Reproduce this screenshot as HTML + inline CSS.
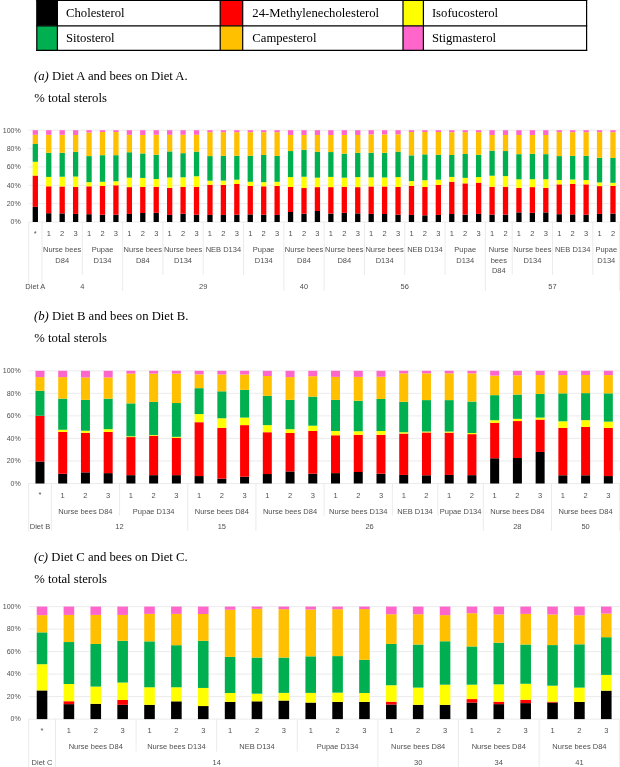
<!DOCTYPE html><html><head><meta charset="utf-8"><title>Sterols</title><style>
html,body{margin:0;padding:0;background:#fff}svg{display:block}
.ax{font-family:"Liberation Sans",sans-serif;font-size:7.5px;fill:#505050}
.h{font-family:"Liberation Serif",serif;font-size:12.7px;fill:#000}
</style></head><body>
<svg width="620" height="767" viewBox="0 0 620 767">
<rect width="620" height="767" fill="#fff"/>
<rect x="36.8" y="0.5" width="20.60" height="25.30" fill="#000000"/>
<text x="66.00" y="17.40" class="h">Cholesterol</text>
<rect x="36.8" y="25.8" width="20.60" height="24.50" fill="#00B050"/>
<text x="66.00" y="42.40" class="h">Sitosterol</text>
<rect x="220.2" y="0.5" width="22.50" height="25.30" fill="#FF0000"/>
<text x="252.30" y="17.40" class="h">24-Methylenecholesterol</text>
<rect x="220.2" y="25.8" width="22.50" height="24.50" fill="#FFC000"/>
<text x="252.30" y="42.40" class="h">Campesterol</text>
<rect x="403.0" y="0.5" width="20.40" height="25.30" fill="#FFFF00"/>
<text x="431.90" y="17.40" class="h">Isofucosterol</text>
<rect x="403.0" y="25.8" width="20.40" height="24.50" fill="#FF66CC"/>
<text x="431.90" y="42.40" class="h">Stigmasterol</text>
<line x1="36.2" y1="0.5" x2="587.2" y2="0.5" stroke="#000" stroke-width="1.2"/>
<line x1="36.2" y1="25.8" x2="587.2" y2="25.8" stroke="#000" stroke-width="1.2"/>
<line x1="36.2" y1="50.3" x2="587.2" y2="50.3" stroke="#000" stroke-width="1.2"/>
<line x1="36.8" y1="0" x2="36.8" y2="50.9" stroke="#000" stroke-width="1.2"/>
<line x1="57.4" y1="0" x2="57.4" y2="50.9" stroke="#000" stroke-width="1.2"/>
<line x1="220.2" y1="0" x2="220.2" y2="50.9" stroke="#000" stroke-width="1.2"/>
<line x1="242.7" y1="0" x2="242.7" y2="50.9" stroke="#000" stroke-width="1.2"/>
<line x1="403.0" y1="0" x2="403.0" y2="50.9" stroke="#000" stroke-width="1.2"/>
<line x1="423.4" y1="0" x2="423.4" y2="50.9" stroke="#000" stroke-width="1.2"/>
<line x1="586.6" y1="0" x2="586.6" y2="50.9" stroke="#000" stroke-width="1.2"/>
<text x="34.0" y="80.40" class="h"><tspan font-style="italic">(a)</tspan> Diet A and bees on Diet A.</text>
<text x="34.3" y="102.40" class="h">% total sterols</text>
<text x="34.0" y="320.40" class="h"><tspan font-style="italic">(b)</tspan> Diet B and bees on Diet B.</text>
<text x="34.3" y="342.40" class="h">% total sterols</text>
<text x="34.0" y="560.50" class="h"><tspan font-style="italic">(c)</tspan> Diet C and bees on Diet C.</text>
<text x="34.3" y="582.50" class="h">% total sterols</text>
<line x1="28.60" y1="222.00" x2="619.70" y2="222.00" stroke="#E6E6E6" stroke-width="0.8"/>
<text x="20.8" y="224.30" text-anchor="end" class="ax" style="font-size:7.05px">0%</text>
<line x1="28.60" y1="203.64" x2="619.70" y2="203.64" stroke="#E6E6E6" stroke-width="0.8"/>
<text x="20.8" y="205.94" text-anchor="end" class="ax" style="font-size:7.05px">20%</text>
<line x1="28.60" y1="185.28" x2="619.70" y2="185.28" stroke="#E6E6E6" stroke-width="0.8"/>
<text x="20.8" y="187.58" text-anchor="end" class="ax" style="font-size:7.05px">40%</text>
<line x1="28.60" y1="166.92" x2="619.70" y2="166.92" stroke="#E6E6E6" stroke-width="0.8"/>
<text x="20.8" y="169.22" text-anchor="end" class="ax" style="font-size:7.05px">60%</text>
<line x1="28.60" y1="148.56" x2="619.70" y2="148.56" stroke="#E6E6E6" stroke-width="0.8"/>
<text x="20.8" y="150.86" text-anchor="end" class="ax" style="font-size:7.05px">80%</text>
<line x1="28.60" y1="130.20" x2="619.70" y2="130.20" stroke="#E6E6E6" stroke-width="0.8"/>
<text x="20.8" y="132.50" text-anchor="end" class="ax" style="font-size:7.05px">100%</text>
<rect x="32.67" y="206.85" width="5.30" height="15.15" fill="#000000"/>
<rect x="32.67" y="175.55" width="5.30" height="31.30" fill="#FF0000"/>
<rect x="32.67" y="161.78" width="5.30" height="13.77" fill="#FFFF00"/>
<rect x="32.67" y="143.97" width="5.30" height="17.81" fill="#00B050"/>
<rect x="32.67" y="134.79" width="5.30" height="9.18" fill="#FFC000"/>
<rect x="32.67" y="130.20" width="5.30" height="4.59" fill="#FF66CC"/>
<rect x="46.10" y="213.19" width="5.30" height="8.81" fill="#000000"/>
<rect x="46.10" y="186.29" width="5.30" height="26.90" fill="#FF0000"/>
<rect x="46.10" y="176.93" width="5.30" height="9.36" fill="#FFFF00"/>
<rect x="46.10" y="152.78" width="5.30" height="24.14" fill="#00B050"/>
<rect x="46.10" y="134.79" width="5.30" height="17.99" fill="#FFC000"/>
<rect x="46.10" y="130.20" width="5.30" height="4.59" fill="#FF66CC"/>
<rect x="59.54" y="213.37" width="5.30" height="8.63" fill="#000000"/>
<rect x="59.54" y="186.47" width="5.30" height="26.90" fill="#FF0000"/>
<rect x="59.54" y="176.74" width="5.30" height="9.73" fill="#FFFF00"/>
<rect x="59.54" y="152.78" width="5.30" height="23.96" fill="#00B050"/>
<rect x="59.54" y="134.79" width="5.30" height="17.99" fill="#FFC000"/>
<rect x="59.54" y="130.20" width="5.30" height="4.59" fill="#FF66CC"/>
<rect x="72.97" y="213.92" width="5.30" height="8.08" fill="#000000"/>
<rect x="72.97" y="186.93" width="5.30" height="26.99" fill="#FF0000"/>
<rect x="72.97" y="176.56" width="5.30" height="10.37" fill="#FFFF00"/>
<rect x="72.97" y="151.86" width="5.30" height="24.69" fill="#00B050"/>
<rect x="72.97" y="134.97" width="5.30" height="16.89" fill="#FFC000"/>
<rect x="72.97" y="130.20" width="5.30" height="4.77" fill="#FF66CC"/>
<rect x="86.40" y="214.20" width="5.30" height="7.80" fill="#000000"/>
<rect x="86.40" y="186.29" width="5.30" height="27.91" fill="#FF0000"/>
<rect x="86.40" y="182.16" width="5.30" height="4.13" fill="#FFFF00"/>
<rect x="86.40" y="156.09" width="5.30" height="26.07" fill="#00B050"/>
<rect x="86.40" y="132.59" width="5.30" height="23.50" fill="#FFC000"/>
<rect x="86.40" y="130.20" width="5.30" height="2.39" fill="#FF66CC"/>
<rect x="99.84" y="214.75" width="5.30" height="7.25" fill="#000000"/>
<rect x="99.84" y="185.92" width="5.30" height="28.83" fill="#FF0000"/>
<rect x="99.84" y="181.79" width="5.30" height="4.13" fill="#FFFF00"/>
<rect x="99.84" y="155.17" width="5.30" height="26.62" fill="#00B050"/>
<rect x="99.84" y="132.04" width="5.30" height="23.13" fill="#FFC000"/>
<rect x="99.84" y="130.20" width="5.30" height="1.84" fill="#FF66CC"/>
<rect x="113.27" y="214.75" width="5.30" height="7.25" fill="#000000"/>
<rect x="113.27" y="185.28" width="5.30" height="29.47" fill="#FF0000"/>
<rect x="113.27" y="181.24" width="5.30" height="4.04" fill="#FFFF00"/>
<rect x="113.27" y="155.17" width="5.30" height="26.07" fill="#00B050"/>
<rect x="113.27" y="132.04" width="5.30" height="23.13" fill="#FFC000"/>
<rect x="113.27" y="130.20" width="5.30" height="1.84" fill="#FF66CC"/>
<rect x="126.71" y="213.92" width="5.30" height="8.08" fill="#000000"/>
<rect x="126.71" y="187.12" width="5.30" height="26.81" fill="#FF0000"/>
<rect x="126.71" y="177.66" width="5.30" height="9.46" fill="#FFFF00"/>
<rect x="126.71" y="152.23" width="5.30" height="25.43" fill="#00B050"/>
<rect x="126.71" y="134.79" width="5.30" height="17.44" fill="#FFC000"/>
<rect x="126.71" y="130.20" width="5.30" height="4.59" fill="#FF66CC"/>
<rect x="140.14" y="213.00" width="5.30" height="9.00" fill="#000000"/>
<rect x="140.14" y="186.93" width="5.30" height="26.07" fill="#FF0000"/>
<rect x="140.14" y="177.94" width="5.30" height="9.00" fill="#FFFF00"/>
<rect x="140.14" y="153.43" width="5.30" height="24.51" fill="#00B050"/>
<rect x="140.14" y="134.97" width="5.30" height="18.45" fill="#FFC000"/>
<rect x="140.14" y="130.20" width="5.30" height="4.77" fill="#FF66CC"/>
<rect x="153.57" y="212.82" width="5.30" height="9.18" fill="#000000"/>
<rect x="153.57" y="186.75" width="5.30" height="26.07" fill="#FF0000"/>
<rect x="153.57" y="179.04" width="5.30" height="7.71" fill="#FFFF00"/>
<rect x="153.57" y="154.71" width="5.30" height="24.33" fill="#00B050"/>
<rect x="153.57" y="134.79" width="5.30" height="19.92" fill="#FFC000"/>
<rect x="153.57" y="130.20" width="5.30" height="4.59" fill="#FF66CC"/>
<rect x="167.01" y="214.93" width="5.30" height="7.07" fill="#000000"/>
<rect x="167.01" y="187.85" width="5.30" height="27.08" fill="#FF0000"/>
<rect x="167.01" y="177.48" width="5.30" height="10.37" fill="#FFFF00"/>
<rect x="167.01" y="151.41" width="5.30" height="26.07" fill="#00B050"/>
<rect x="167.01" y="134.79" width="5.30" height="16.62" fill="#FFC000"/>
<rect x="167.01" y="130.20" width="5.30" height="4.59" fill="#FF66CC"/>
<rect x="180.44" y="213.74" width="5.30" height="8.26" fill="#000000"/>
<rect x="180.44" y="186.93" width="5.30" height="26.81" fill="#FF0000"/>
<rect x="180.44" y="177.29" width="5.30" height="9.64" fill="#FFFF00"/>
<rect x="180.44" y="153.15" width="5.30" height="24.14" fill="#00B050"/>
<rect x="180.44" y="134.79" width="5.30" height="18.36" fill="#FFC000"/>
<rect x="180.44" y="130.20" width="5.30" height="4.59" fill="#FF66CC"/>
<rect x="193.88" y="214.75" width="5.30" height="7.25" fill="#000000"/>
<rect x="193.88" y="186.75" width="5.30" height="28.00" fill="#FF0000"/>
<rect x="193.88" y="176.28" width="5.30" height="10.47" fill="#FFFF00"/>
<rect x="193.88" y="151.59" width="5.30" height="24.69" fill="#00B050"/>
<rect x="193.88" y="134.79" width="5.30" height="16.80" fill="#FFC000"/>
<rect x="193.88" y="130.20" width="5.30" height="4.59" fill="#FF66CC"/>
<rect x="207.31" y="214.93" width="5.30" height="7.07" fill="#000000"/>
<rect x="207.31" y="184.73" width="5.30" height="30.20" fill="#FF0000"/>
<rect x="207.31" y="180.69" width="5.30" height="4.04" fill="#FFFF00"/>
<rect x="207.31" y="156.09" width="5.30" height="24.60" fill="#00B050"/>
<rect x="207.31" y="132.22" width="5.30" height="23.87" fill="#FFC000"/>
<rect x="207.31" y="130.20" width="5.30" height="2.02" fill="#FF66CC"/>
<rect x="220.74" y="214.93" width="5.30" height="7.07" fill="#000000"/>
<rect x="220.74" y="184.91" width="5.30" height="30.02" fill="#FF0000"/>
<rect x="220.74" y="180.60" width="5.30" height="4.31" fill="#FFFF00"/>
<rect x="220.74" y="155.90" width="5.30" height="24.69" fill="#00B050"/>
<rect x="220.74" y="132.22" width="5.30" height="23.68" fill="#FFC000"/>
<rect x="220.74" y="130.20" width="5.30" height="2.02" fill="#FF66CC"/>
<rect x="234.18" y="214.75" width="5.30" height="7.25" fill="#000000"/>
<rect x="234.18" y="183.99" width="5.30" height="30.75" fill="#FF0000"/>
<rect x="234.18" y="179.68" width="5.30" height="4.31" fill="#FFFF00"/>
<rect x="234.18" y="155.72" width="5.30" height="23.96" fill="#00B050"/>
<rect x="234.18" y="132.22" width="5.30" height="23.50" fill="#FFC000"/>
<rect x="234.18" y="130.20" width="5.30" height="2.02" fill="#FF66CC"/>
<rect x="247.61" y="214.38" width="5.30" height="7.62" fill="#000000"/>
<rect x="247.61" y="185.92" width="5.30" height="28.46" fill="#FF0000"/>
<rect x="247.61" y="181.79" width="5.30" height="4.13" fill="#FFFF00"/>
<rect x="247.61" y="155.72" width="5.30" height="26.07" fill="#00B050"/>
<rect x="247.61" y="132.22" width="5.30" height="23.50" fill="#FFC000"/>
<rect x="247.61" y="130.20" width="5.30" height="2.02" fill="#FF66CC"/>
<rect x="261.05" y="214.75" width="5.30" height="7.25" fill="#000000"/>
<rect x="261.05" y="186.29" width="5.30" height="28.46" fill="#FF0000"/>
<rect x="261.05" y="182.16" width="5.30" height="4.13" fill="#FFFF00"/>
<rect x="261.05" y="154.99" width="5.30" height="27.17" fill="#00B050"/>
<rect x="261.05" y="132.22" width="5.30" height="22.77" fill="#FFC000"/>
<rect x="261.05" y="130.20" width="5.30" height="2.02" fill="#FF66CC"/>
<rect x="274.48" y="214.93" width="5.30" height="7.07" fill="#000000"/>
<rect x="274.48" y="185.92" width="5.30" height="29.01" fill="#FF0000"/>
<rect x="274.48" y="181.79" width="5.30" height="4.13" fill="#FFFF00"/>
<rect x="274.48" y="155.90" width="5.30" height="25.89" fill="#00B050"/>
<rect x="274.48" y="132.22" width="5.30" height="23.68" fill="#FFC000"/>
<rect x="274.48" y="130.20" width="5.30" height="2.02" fill="#FF66CC"/>
<rect x="287.91" y="211.99" width="5.30" height="10.01" fill="#000000"/>
<rect x="287.91" y="186.93" width="5.30" height="25.06" fill="#FF0000"/>
<rect x="287.91" y="177.11" width="5.30" height="9.82" fill="#FFFF00"/>
<rect x="287.91" y="151.04" width="5.30" height="26.07" fill="#00B050"/>
<rect x="287.91" y="134.97" width="5.30" height="16.07" fill="#FFC000"/>
<rect x="287.91" y="130.20" width="5.30" height="4.77" fill="#FF66CC"/>
<rect x="301.35" y="213.74" width="5.30" height="8.26" fill="#000000"/>
<rect x="301.35" y="188.03" width="5.30" height="25.70" fill="#FF0000"/>
<rect x="301.35" y="176.74" width="5.30" height="11.29" fill="#FFFF00"/>
<rect x="301.35" y="149.85" width="5.30" height="26.90" fill="#00B050"/>
<rect x="301.35" y="134.97" width="5.30" height="14.87" fill="#FFC000"/>
<rect x="301.35" y="130.20" width="5.30" height="4.77" fill="#FF66CC"/>
<rect x="314.78" y="210.98" width="5.30" height="11.02" fill="#000000"/>
<rect x="314.78" y="187.12" width="5.30" height="23.87" fill="#FF0000"/>
<rect x="314.78" y="177.66" width="5.30" height="9.46" fill="#FFFF00"/>
<rect x="314.78" y="151.86" width="5.30" height="25.80" fill="#00B050"/>
<rect x="314.78" y="134.97" width="5.30" height="16.89" fill="#FFC000"/>
<rect x="314.78" y="130.20" width="5.30" height="4.77" fill="#FF66CC"/>
<rect x="328.22" y="213.55" width="5.30" height="8.45" fill="#000000"/>
<rect x="328.22" y="187.12" width="5.30" height="26.44" fill="#FF0000"/>
<rect x="328.22" y="176.93" width="5.30" height="10.19" fill="#FFFF00"/>
<rect x="328.22" y="152.05" width="5.30" height="24.88" fill="#00B050"/>
<rect x="328.22" y="134.97" width="5.30" height="17.07" fill="#FFC000"/>
<rect x="328.22" y="130.20" width="5.30" height="4.77" fill="#FF66CC"/>
<rect x="341.65" y="212.82" width="5.30" height="9.18" fill="#000000"/>
<rect x="341.65" y="186.75" width="5.30" height="26.07" fill="#FF0000"/>
<rect x="341.65" y="177.66" width="5.30" height="9.09" fill="#FFFF00"/>
<rect x="341.65" y="153.61" width="5.30" height="24.05" fill="#00B050"/>
<rect x="341.65" y="134.97" width="5.30" height="18.64" fill="#FFC000"/>
<rect x="341.65" y="130.20" width="5.30" height="4.77" fill="#FF66CC"/>
<rect x="355.09" y="213.37" width="5.30" height="8.63" fill="#000000"/>
<rect x="355.09" y="187.12" width="5.30" height="26.25" fill="#FF0000"/>
<rect x="355.09" y="177.11" width="5.30" height="10.01" fill="#FFFF00"/>
<rect x="355.09" y="152.78" width="5.30" height="24.33" fill="#00B050"/>
<rect x="355.09" y="134.97" width="5.30" height="17.81" fill="#FFC000"/>
<rect x="355.09" y="130.20" width="5.30" height="4.77" fill="#FF66CC"/>
<rect x="368.52" y="213.92" width="5.30" height="8.08" fill="#000000"/>
<rect x="368.52" y="186.47" width="5.30" height="27.45" fill="#FF0000"/>
<rect x="368.52" y="177.29" width="5.30" height="9.18" fill="#FFFF00"/>
<rect x="368.52" y="152.78" width="5.30" height="24.51" fill="#00B050"/>
<rect x="368.52" y="134.42" width="5.30" height="18.36" fill="#FFC000"/>
<rect x="368.52" y="130.20" width="5.30" height="4.22" fill="#FF66CC"/>
<rect x="381.95" y="214.01" width="5.30" height="7.99" fill="#000000"/>
<rect x="381.95" y="186.47" width="5.30" height="27.54" fill="#FF0000"/>
<rect x="381.95" y="177.48" width="5.30" height="9.00" fill="#FFFF00"/>
<rect x="381.95" y="152.78" width="5.30" height="24.69" fill="#00B050"/>
<rect x="381.95" y="134.42" width="5.30" height="18.36" fill="#FFC000"/>
<rect x="381.95" y="130.20" width="5.30" height="4.22" fill="#FF66CC"/>
<rect x="395.39" y="214.75" width="5.30" height="7.25" fill="#000000"/>
<rect x="395.39" y="186.93" width="5.30" height="27.82" fill="#FF0000"/>
<rect x="395.39" y="177.11" width="5.30" height="9.82" fill="#FFFF00"/>
<rect x="395.39" y="151.59" width="5.30" height="25.52" fill="#00B050"/>
<rect x="395.39" y="134.33" width="5.30" height="17.26" fill="#FFC000"/>
<rect x="395.39" y="130.20" width="5.30" height="4.13" fill="#FF66CC"/>
<rect x="408.82" y="214.93" width="5.30" height="7.07" fill="#000000"/>
<rect x="408.82" y="185.92" width="5.30" height="29.01" fill="#FF0000"/>
<rect x="408.82" y="181.06" width="5.30" height="4.87" fill="#FFFF00"/>
<rect x="408.82" y="155.35" width="5.30" height="25.70" fill="#00B050"/>
<rect x="408.82" y="132.04" width="5.30" height="23.32" fill="#FFC000"/>
<rect x="408.82" y="130.20" width="5.30" height="1.84" fill="#FF66CC"/>
<rect x="422.26" y="215.30" width="5.30" height="6.70" fill="#000000"/>
<rect x="422.26" y="186.93" width="5.30" height="28.37" fill="#FF0000"/>
<rect x="422.26" y="180.23" width="5.30" height="6.70" fill="#FFFF00"/>
<rect x="422.26" y="154.34" width="5.30" height="25.89" fill="#00B050"/>
<rect x="422.26" y="132.04" width="5.30" height="22.31" fill="#FFC000"/>
<rect x="422.26" y="130.20" width="5.30" height="1.84" fill="#FF66CC"/>
<rect x="435.69" y="214.93" width="5.30" height="7.07" fill="#000000"/>
<rect x="435.69" y="184.91" width="5.30" height="30.02" fill="#FF0000"/>
<rect x="435.69" y="179.68" width="5.30" height="5.23" fill="#FFFF00"/>
<rect x="435.69" y="154.80" width="5.30" height="24.88" fill="#00B050"/>
<rect x="435.69" y="132.04" width="5.30" height="22.77" fill="#FFC000"/>
<rect x="435.69" y="130.20" width="5.30" height="1.84" fill="#FF66CC"/>
<rect x="449.12" y="214.01" width="5.30" height="7.99" fill="#000000"/>
<rect x="449.12" y="181.79" width="5.30" height="32.22" fill="#FF0000"/>
<rect x="449.12" y="176.93" width="5.30" height="4.87" fill="#FFFF00"/>
<rect x="449.12" y="154.99" width="5.30" height="21.94" fill="#00B050"/>
<rect x="449.12" y="132.22" width="5.30" height="22.77" fill="#FFC000"/>
<rect x="449.12" y="130.20" width="5.30" height="2.02" fill="#FF66CC"/>
<rect x="462.56" y="214.56" width="5.30" height="7.44" fill="#000000"/>
<rect x="462.56" y="183.35" width="5.30" height="31.21" fill="#FF0000"/>
<rect x="462.56" y="177.84" width="5.30" height="5.51" fill="#FFFF00"/>
<rect x="462.56" y="153.98" width="5.30" height="23.87" fill="#00B050"/>
<rect x="462.56" y="132.22" width="5.30" height="21.76" fill="#FFC000"/>
<rect x="462.56" y="130.20" width="5.30" height="2.02" fill="#FF66CC"/>
<rect x="475.99" y="213.92" width="5.30" height="8.08" fill="#000000"/>
<rect x="475.99" y="182.62" width="5.30" height="31.30" fill="#FF0000"/>
<rect x="475.99" y="177.11" width="5.30" height="5.51" fill="#FFFF00"/>
<rect x="475.99" y="154.80" width="5.30" height="22.31" fill="#00B050"/>
<rect x="475.99" y="132.22" width="5.30" height="22.58" fill="#FFC000"/>
<rect x="475.99" y="130.20" width="5.30" height="2.02" fill="#FF66CC"/>
<rect x="489.43" y="214.56" width="5.30" height="7.44" fill="#000000"/>
<rect x="489.43" y="186.75" width="5.30" height="27.82" fill="#FF0000"/>
<rect x="489.43" y="175.73" width="5.30" height="11.02" fill="#FFFF00"/>
<rect x="489.43" y="150.67" width="5.30" height="25.06" fill="#00B050"/>
<rect x="489.43" y="134.97" width="5.30" height="15.70" fill="#FFC000"/>
<rect x="489.43" y="130.20" width="5.30" height="4.77" fill="#FF66CC"/>
<rect x="502.86" y="214.56" width="5.30" height="7.44" fill="#000000"/>
<rect x="502.86" y="186.75" width="5.30" height="27.82" fill="#FF0000"/>
<rect x="502.86" y="176.10" width="5.30" height="10.65" fill="#FFFF00"/>
<rect x="502.86" y="151.04" width="5.30" height="25.06" fill="#00B050"/>
<rect x="502.86" y="134.97" width="5.30" height="16.07" fill="#FFC000"/>
<rect x="502.86" y="130.20" width="5.30" height="4.77" fill="#FF66CC"/>
<rect x="516.29" y="212.36" width="5.30" height="9.64" fill="#000000"/>
<rect x="516.29" y="187.85" width="5.30" height="24.51" fill="#FF0000"/>
<rect x="516.29" y="179.31" width="5.30" height="8.54" fill="#FFFF00"/>
<rect x="516.29" y="154.16" width="5.30" height="25.15" fill="#00B050"/>
<rect x="516.29" y="134.97" width="5.30" height="19.19" fill="#FFC000"/>
<rect x="516.29" y="130.20" width="5.30" height="4.77" fill="#FF66CC"/>
<rect x="529.73" y="212.82" width="5.30" height="9.18" fill="#000000"/>
<rect x="529.73" y="187.12" width="5.30" height="25.70" fill="#FF0000"/>
<rect x="529.73" y="179.22" width="5.30" height="7.89" fill="#FFFF00"/>
<rect x="529.73" y="153.79" width="5.30" height="25.43" fill="#00B050"/>
<rect x="529.73" y="134.97" width="5.30" height="18.82" fill="#FFC000"/>
<rect x="529.73" y="130.20" width="5.30" height="4.77" fill="#FF66CC"/>
<rect x="543.16" y="212.36" width="5.30" height="9.64" fill="#000000"/>
<rect x="543.16" y="187.85" width="5.30" height="24.51" fill="#FF0000"/>
<rect x="543.16" y="179.22" width="5.30" height="8.63" fill="#FFFF00"/>
<rect x="543.16" y="154.16" width="5.30" height="25.06" fill="#00B050"/>
<rect x="543.16" y="134.97" width="5.30" height="19.19" fill="#FFC000"/>
<rect x="543.16" y="130.20" width="5.30" height="4.77" fill="#FF66CC"/>
<rect x="556.60" y="214.20" width="5.30" height="7.80" fill="#000000"/>
<rect x="556.60" y="184.36" width="5.30" height="29.84" fill="#FF0000"/>
<rect x="556.60" y="179.96" width="5.30" height="4.41" fill="#FFFF00"/>
<rect x="556.60" y="156.09" width="5.30" height="23.87" fill="#00B050"/>
<rect x="556.60" y="132.22" width="5.30" height="23.87" fill="#FFC000"/>
<rect x="556.60" y="130.20" width="5.30" height="2.02" fill="#FF66CC"/>
<rect x="570.03" y="214.38" width="5.30" height="7.62" fill="#000000"/>
<rect x="570.03" y="183.81" width="5.30" height="30.57" fill="#FF0000"/>
<rect x="570.03" y="179.50" width="5.30" height="4.31" fill="#FFFF00"/>
<rect x="570.03" y="155.90" width="5.30" height="23.59" fill="#00B050"/>
<rect x="570.03" y="132.22" width="5.30" height="23.68" fill="#FFC000"/>
<rect x="570.03" y="130.20" width="5.30" height="2.02" fill="#FF66CC"/>
<rect x="583.46" y="214.75" width="5.30" height="7.25" fill="#000000"/>
<rect x="583.46" y="184.36" width="5.30" height="30.39" fill="#FF0000"/>
<rect x="583.46" y="180.05" width="5.30" height="4.31" fill="#FFFF00"/>
<rect x="583.46" y="155.72" width="5.30" height="24.33" fill="#00B050"/>
<rect x="583.46" y="132.22" width="5.30" height="23.50" fill="#FFC000"/>
<rect x="583.46" y="130.20" width="5.30" height="2.02" fill="#FF66CC"/>
<rect x="596.90" y="213.92" width="5.30" height="8.08" fill="#000000"/>
<rect x="596.90" y="186.11" width="5.30" height="27.82" fill="#FF0000"/>
<rect x="596.90" y="182.43" width="5.30" height="3.67" fill="#FFFF00"/>
<rect x="596.90" y="157.74" width="5.30" height="24.69" fill="#00B050"/>
<rect x="596.90" y="132.22" width="5.30" height="25.52" fill="#FFC000"/>
<rect x="596.90" y="130.20" width="5.30" height="2.02" fill="#FF66CC"/>
<rect x="610.33" y="213.55" width="5.30" height="8.45" fill="#000000"/>
<rect x="610.33" y="185.92" width="5.30" height="27.63" fill="#FF0000"/>
<rect x="610.33" y="182.80" width="5.30" height="3.12" fill="#FFFF00"/>
<rect x="610.33" y="157.92" width="5.30" height="24.88" fill="#00B050"/>
<rect x="610.33" y="132.22" width="5.30" height="25.70" fill="#FFC000"/>
<rect x="610.33" y="130.20" width="5.30" height="2.02" fill="#FF66CC"/>
<line x1="28.60" y1="222.00" x2="28.60" y2="291.00" stroke="#E6E6E6" stroke-width="0.8"/>
<line x1="42.03" y1="222.00" x2="42.03" y2="291.00" stroke="#E6E6E6" stroke-width="0.8"/>
<line x1="619.70" y1="222.00" x2="619.70" y2="291.00" stroke="#E6E6E6" stroke-width="0.8"/>
<text x="35.32" y="235.75" text-anchor="middle" class="ax">*</text>
<text x="35.32" y="288.60" text-anchor="middle" class="ax">Diet A</text>
<text x="48.75" y="236.35" text-anchor="middle" class="ax">1</text>
<text x="62.19" y="236.35" text-anchor="middle" class="ax">2</text>
<text x="75.62" y="236.35" text-anchor="middle" class="ax">3</text>
<text x="62.19" y="252.35" text-anchor="middle" class="ax">Nurse bees</text>
<text x="62.19" y="262.85" text-anchor="middle" class="ax">D84</text>
<line x1="82.34" y1="222.00" x2="82.34" y2="275.00" stroke="#E6E6E6" stroke-width="0.8"/>
<text x="89.05" y="236.35" text-anchor="middle" class="ax">1</text>
<text x="102.49" y="236.35" text-anchor="middle" class="ax">2</text>
<text x="115.92" y="236.35" text-anchor="middle" class="ax">3</text>
<text x="102.49" y="252.35" text-anchor="middle" class="ax">Pupae</text>
<text x="102.49" y="262.85" text-anchor="middle" class="ax">D134</text>
<text x="82.34" y="288.60" text-anchor="middle" class="ax">4</text>
<line x1="122.64" y1="222.00" x2="122.64" y2="291.00" stroke="#E6E6E6" stroke-width="0.8"/>
<text x="129.36" y="236.35" text-anchor="middle" class="ax">1</text>
<text x="142.79" y="236.35" text-anchor="middle" class="ax">2</text>
<text x="156.22" y="236.35" text-anchor="middle" class="ax">3</text>
<text x="142.79" y="252.35" text-anchor="middle" class="ax">Nurse bees</text>
<text x="142.79" y="262.85" text-anchor="middle" class="ax">D84</text>
<line x1="162.94" y1="222.00" x2="162.94" y2="275.00" stroke="#E6E6E6" stroke-width="0.8"/>
<text x="169.66" y="236.35" text-anchor="middle" class="ax">1</text>
<text x="183.09" y="236.35" text-anchor="middle" class="ax">2</text>
<text x="196.53" y="236.35" text-anchor="middle" class="ax">3</text>
<text x="183.09" y="252.35" text-anchor="middle" class="ax">Nurse bees</text>
<text x="183.09" y="262.85" text-anchor="middle" class="ax">D134</text>
<line x1="203.24" y1="222.00" x2="203.24" y2="275.00" stroke="#E6E6E6" stroke-width="0.8"/>
<text x="209.96" y="236.35" text-anchor="middle" class="ax">1</text>
<text x="223.39" y="236.35" text-anchor="middle" class="ax">2</text>
<text x="236.83" y="236.35" text-anchor="middle" class="ax">3</text>
<text x="223.39" y="252.35" text-anchor="middle" class="ax">NEB D134</text>
<line x1="243.55" y1="222.00" x2="243.55" y2="275.00" stroke="#E6E6E6" stroke-width="0.8"/>
<text x="250.26" y="236.35" text-anchor="middle" class="ax">1</text>
<text x="263.70" y="236.35" text-anchor="middle" class="ax">2</text>
<text x="277.13" y="236.35" text-anchor="middle" class="ax">3</text>
<text x="263.70" y="252.35" text-anchor="middle" class="ax">Pupae</text>
<text x="263.70" y="262.85" text-anchor="middle" class="ax">D134</text>
<text x="203.24" y="288.60" text-anchor="middle" class="ax">29</text>
<line x1="283.85" y1="222.00" x2="283.85" y2="291.00" stroke="#E6E6E6" stroke-width="0.8"/>
<text x="290.56" y="236.35" text-anchor="middle" class="ax">1</text>
<text x="304.00" y="236.35" text-anchor="middle" class="ax">2</text>
<text x="317.43" y="236.35" text-anchor="middle" class="ax">3</text>
<text x="304.00" y="252.35" text-anchor="middle" class="ax">Nurse bees</text>
<text x="304.00" y="262.85" text-anchor="middle" class="ax">D84</text>
<text x="304.00" y="288.60" text-anchor="middle" class="ax">40</text>
<line x1="324.15" y1="222.00" x2="324.15" y2="291.00" stroke="#E6E6E6" stroke-width="0.8"/>
<text x="330.87" y="236.35" text-anchor="middle" class="ax">1</text>
<text x="344.30" y="236.35" text-anchor="middle" class="ax">2</text>
<text x="357.74" y="236.35" text-anchor="middle" class="ax">3</text>
<text x="344.30" y="252.35" text-anchor="middle" class="ax">Nurse bees</text>
<text x="344.30" y="262.85" text-anchor="middle" class="ax">D84</text>
<line x1="364.45" y1="222.00" x2="364.45" y2="275.00" stroke="#E6E6E6" stroke-width="0.8"/>
<text x="371.17" y="236.35" text-anchor="middle" class="ax">1</text>
<text x="384.60" y="236.35" text-anchor="middle" class="ax">2</text>
<text x="398.04" y="236.35" text-anchor="middle" class="ax">3</text>
<text x="384.60" y="252.35" text-anchor="middle" class="ax">Nurse bees</text>
<text x="384.60" y="262.85" text-anchor="middle" class="ax">D134</text>
<line x1="404.75" y1="222.00" x2="404.75" y2="275.00" stroke="#E6E6E6" stroke-width="0.8"/>
<text x="411.47" y="236.35" text-anchor="middle" class="ax">1</text>
<text x="424.91" y="236.35" text-anchor="middle" class="ax">2</text>
<text x="438.34" y="236.35" text-anchor="middle" class="ax">3</text>
<text x="424.91" y="252.35" text-anchor="middle" class="ax">NEB D134</text>
<line x1="445.06" y1="222.00" x2="445.06" y2="275.00" stroke="#E6E6E6" stroke-width="0.8"/>
<text x="451.77" y="236.35" text-anchor="middle" class="ax">1</text>
<text x="465.21" y="236.35" text-anchor="middle" class="ax">2</text>
<text x="478.64" y="236.35" text-anchor="middle" class="ax">3</text>
<text x="465.21" y="252.35" text-anchor="middle" class="ax">Pupae</text>
<text x="465.21" y="262.85" text-anchor="middle" class="ax">D134</text>
<text x="404.75" y="288.60" text-anchor="middle" class="ax">56</text>
<line x1="485.36" y1="222.00" x2="485.36" y2="291.00" stroke="#E6E6E6" stroke-width="0.8"/>
<text x="492.08" y="236.35" text-anchor="middle" class="ax">1</text>
<text x="505.51" y="236.35" text-anchor="middle" class="ax">2</text>
<text x="498.79" y="252.35" text-anchor="middle" class="ax">Nurse</text>
<text x="498.79" y="262.85" text-anchor="middle" class="ax">bees</text>
<text x="498.79" y="273.35" text-anchor="middle" class="ax">D84</text>
<line x1="512.23" y1="222.00" x2="512.23" y2="275.00" stroke="#E6E6E6" stroke-width="0.8"/>
<text x="518.94" y="236.35" text-anchor="middle" class="ax">1</text>
<text x="532.38" y="236.35" text-anchor="middle" class="ax">2</text>
<text x="545.81" y="236.35" text-anchor="middle" class="ax">3</text>
<text x="532.38" y="252.35" text-anchor="middle" class="ax">Nurse bees</text>
<text x="532.38" y="262.85" text-anchor="middle" class="ax">D134</text>
<line x1="552.53" y1="222.00" x2="552.53" y2="275.00" stroke="#E6E6E6" stroke-width="0.8"/>
<text x="559.25" y="236.35" text-anchor="middle" class="ax">1</text>
<text x="572.68" y="236.35" text-anchor="middle" class="ax">2</text>
<text x="586.11" y="236.35" text-anchor="middle" class="ax">3</text>
<text x="572.68" y="252.35" text-anchor="middle" class="ax">NEB D134</text>
<line x1="592.83" y1="222.00" x2="592.83" y2="275.00" stroke="#E6E6E6" stroke-width="0.8"/>
<text x="599.55" y="236.35" text-anchor="middle" class="ax">1</text>
<text x="612.98" y="236.35" text-anchor="middle" class="ax">2</text>
<text x="606.27" y="252.35" text-anchor="middle" class="ax">Pupae</text>
<text x="606.27" y="262.85" text-anchor="middle" class="ax">D134</text>
<text x="552.53" y="288.60" text-anchor="middle" class="ax">57</text>
<line x1="28.60" y1="483.50" x2="619.70" y2="483.50" stroke="#E6E6E6" stroke-width="0.8"/>
<text x="20.8" y="485.80" text-anchor="end" class="ax" style="font-size:7.05px">0%</text>
<line x1="28.60" y1="460.96" x2="619.70" y2="460.96" stroke="#E6E6E6" stroke-width="0.8"/>
<text x="20.8" y="463.26" text-anchor="end" class="ax" style="font-size:7.05px">20%</text>
<line x1="28.60" y1="438.42" x2="619.70" y2="438.42" stroke="#E6E6E6" stroke-width="0.8"/>
<text x="20.8" y="440.72" text-anchor="end" class="ax" style="font-size:7.05px">40%</text>
<line x1="28.60" y1="415.88" x2="619.70" y2="415.88" stroke="#E6E6E6" stroke-width="0.8"/>
<text x="20.8" y="418.18" text-anchor="end" class="ax" style="font-size:7.05px">60%</text>
<line x1="28.60" y1="393.34" x2="619.70" y2="393.34" stroke="#E6E6E6" stroke-width="0.8"/>
<text x="20.8" y="395.64" text-anchor="end" class="ax" style="font-size:7.05px">80%</text>
<line x1="28.60" y1="370.80" x2="619.70" y2="370.80" stroke="#E6E6E6" stroke-width="0.8"/>
<text x="20.8" y="373.10" text-anchor="end" class="ax" style="font-size:7.05px">100%</text>
<rect x="35.47" y="461.52" width="9.00" height="21.98" fill="#000000"/>
<rect x="35.47" y="415.77" width="9.00" height="45.76" fill="#FF0000"/>
<rect x="35.47" y="390.75" width="9.00" height="25.02" fill="#00B050"/>
<rect x="35.47" y="377.11" width="9.00" height="13.64" fill="#FFC000"/>
<rect x="35.47" y="370.80" width="9.00" height="6.31" fill="#FF66CC"/>
<rect x="58.20" y="473.81" width="9.00" height="9.69" fill="#000000"/>
<rect x="58.20" y="431.88" width="9.00" height="41.92" fill="#FF0000"/>
<rect x="58.20" y="429.74" width="9.00" height="2.14" fill="#FFFF00"/>
<rect x="58.20" y="398.64" width="9.00" height="31.11" fill="#00B050"/>
<rect x="58.20" y="377.11" width="9.00" height="21.53" fill="#FFC000"/>
<rect x="58.20" y="370.80" width="9.00" height="6.31" fill="#FF66CC"/>
<rect x="80.94" y="472.34" width="9.00" height="11.16" fill="#000000"/>
<rect x="80.94" y="432.79" width="9.00" height="39.56" fill="#FF0000"/>
<rect x="80.94" y="430.76" width="9.00" height="2.03" fill="#FFFF00"/>
<rect x="80.94" y="399.88" width="9.00" height="30.88" fill="#00B050"/>
<rect x="80.94" y="377.45" width="9.00" height="22.43" fill="#FFC000"/>
<rect x="80.94" y="370.80" width="9.00" height="6.65" fill="#FF66CC"/>
<rect x="103.67" y="473.13" width="9.00" height="10.37" fill="#000000"/>
<rect x="103.67" y="431.88" width="9.00" height="41.25" fill="#FF0000"/>
<rect x="103.67" y="429.18" width="9.00" height="2.70" fill="#FFFF00"/>
<rect x="103.67" y="398.64" width="9.00" height="30.54" fill="#00B050"/>
<rect x="103.67" y="377.45" width="9.00" height="21.19" fill="#FFC000"/>
<rect x="103.67" y="370.80" width="9.00" height="6.65" fill="#FF66CC"/>
<rect x="126.41" y="475.16" width="9.00" height="8.34" fill="#000000"/>
<rect x="126.41" y="437.07" width="9.00" height="38.09" fill="#FF0000"/>
<rect x="126.41" y="436.28" width="9.00" height="0.79" fill="#FFFF00"/>
<rect x="126.41" y="403.37" width="9.00" height="32.91" fill="#00B050"/>
<rect x="126.41" y="373.62" width="9.00" height="29.75" fill="#FFC000"/>
<rect x="126.41" y="370.80" width="9.00" height="2.82" fill="#FF66CC"/>
<rect x="149.14" y="475.16" width="9.00" height="8.34" fill="#000000"/>
<rect x="149.14" y="435.72" width="9.00" height="39.44" fill="#FF0000"/>
<rect x="149.14" y="435.04" width="9.00" height="0.68" fill="#FFFF00"/>
<rect x="149.14" y="401.91" width="9.00" height="33.13" fill="#00B050"/>
<rect x="149.14" y="373.62" width="9.00" height="28.29" fill="#FFC000"/>
<rect x="149.14" y="370.80" width="9.00" height="2.82" fill="#FF66CC"/>
<rect x="171.88" y="475.16" width="9.00" height="8.34" fill="#000000"/>
<rect x="171.88" y="437.74" width="9.00" height="37.42" fill="#FF0000"/>
<rect x="171.88" y="436.84" width="9.00" height="0.90" fill="#FFFF00"/>
<rect x="171.88" y="403.03" width="9.00" height="33.81" fill="#00B050"/>
<rect x="171.88" y="373.62" width="9.00" height="29.41" fill="#FFC000"/>
<rect x="171.88" y="370.80" width="9.00" height="2.82" fill="#FF66CC"/>
<rect x="194.61" y="476.06" width="9.00" height="7.44" fill="#000000"/>
<rect x="194.61" y="422.19" width="9.00" height="53.87" fill="#FF0000"/>
<rect x="194.61" y="414.08" width="9.00" height="8.11" fill="#FFFF00"/>
<rect x="194.61" y="388.16" width="9.00" height="25.92" fill="#00B050"/>
<rect x="194.61" y="374.41" width="9.00" height="13.75" fill="#FFC000"/>
<rect x="194.61" y="370.80" width="9.00" height="3.61" fill="#FF66CC"/>
<rect x="217.34" y="478.65" width="9.00" height="4.85" fill="#000000"/>
<rect x="217.34" y="427.83" width="9.00" height="50.83" fill="#FF0000"/>
<rect x="217.34" y="418.25" width="9.00" height="9.58" fill="#FFFF00"/>
<rect x="217.34" y="391.31" width="9.00" height="26.94" fill="#00B050"/>
<rect x="217.34" y="374.52" width="9.00" height="16.79" fill="#FFC000"/>
<rect x="217.34" y="370.80" width="9.00" height="3.72" fill="#FF66CC"/>
<rect x="240.08" y="476.74" width="9.00" height="6.76" fill="#000000"/>
<rect x="240.08" y="425.12" width="9.00" height="51.62" fill="#FF0000"/>
<rect x="240.08" y="417.57" width="9.00" height="7.55" fill="#FFFF00"/>
<rect x="240.08" y="389.85" width="9.00" height="27.72" fill="#00B050"/>
<rect x="240.08" y="374.52" width="9.00" height="15.33" fill="#FFC000"/>
<rect x="240.08" y="370.80" width="9.00" height="3.72" fill="#FF66CC"/>
<rect x="262.81" y="474.03" width="9.00" height="9.47" fill="#000000"/>
<rect x="262.81" y="432.22" width="9.00" height="41.81" fill="#FF0000"/>
<rect x="262.81" y="425.12" width="9.00" height="7.10" fill="#FFFF00"/>
<rect x="262.81" y="395.82" width="9.00" height="29.30" fill="#00B050"/>
<rect x="262.81" y="375.98" width="9.00" height="19.84" fill="#FFC000"/>
<rect x="262.81" y="370.80" width="9.00" height="5.18" fill="#FF66CC"/>
<rect x="285.55" y="471.44" width="9.00" height="12.06" fill="#000000"/>
<rect x="285.55" y="433.01" width="9.00" height="38.43" fill="#FF0000"/>
<rect x="285.55" y="429.18" width="9.00" height="3.83" fill="#FFFF00"/>
<rect x="285.55" y="399.88" width="9.00" height="29.30" fill="#00B050"/>
<rect x="285.55" y="377.11" width="9.00" height="22.77" fill="#FFC000"/>
<rect x="285.55" y="370.80" width="9.00" height="6.31" fill="#FF66CC"/>
<rect x="308.28" y="473.70" width="9.00" height="9.80" fill="#000000"/>
<rect x="308.28" y="430.98" width="9.00" height="42.71" fill="#FF0000"/>
<rect x="308.28" y="425.68" width="9.00" height="5.30" fill="#FFFF00"/>
<rect x="308.28" y="396.61" width="9.00" height="29.08" fill="#00B050"/>
<rect x="308.28" y="376.21" width="9.00" height="20.40" fill="#FFC000"/>
<rect x="308.28" y="370.80" width="9.00" height="5.41" fill="#FF66CC"/>
<rect x="331.02" y="473.13" width="9.00" height="10.37" fill="#000000"/>
<rect x="331.02" y="435.26" width="9.00" height="37.87" fill="#FF0000"/>
<rect x="331.02" y="430.98" width="9.00" height="4.28" fill="#FFFF00"/>
<rect x="331.02" y="399.88" width="9.00" height="31.11" fill="#00B050"/>
<rect x="331.02" y="376.89" width="9.00" height="22.99" fill="#FFC000"/>
<rect x="331.02" y="370.80" width="9.00" height="6.09" fill="#FF66CC"/>
<rect x="353.75" y="472.00" width="9.00" height="11.50" fill="#000000"/>
<rect x="353.75" y="434.81" width="9.00" height="37.19" fill="#FF0000"/>
<rect x="353.75" y="431.21" width="9.00" height="3.61" fill="#FFFF00"/>
<rect x="353.75" y="400.78" width="9.00" height="30.43" fill="#00B050"/>
<rect x="353.75" y="376.89" width="9.00" height="23.89" fill="#FFC000"/>
<rect x="353.75" y="370.80" width="9.00" height="6.09" fill="#FF66CC"/>
<rect x="376.49" y="473.70" width="9.00" height="9.80" fill="#000000"/>
<rect x="376.49" y="434.81" width="9.00" height="38.88" fill="#FF0000"/>
<rect x="376.49" y="430.98" width="9.00" height="3.83" fill="#FFFF00"/>
<rect x="376.49" y="398.98" width="9.00" height="32.01" fill="#00B050"/>
<rect x="376.49" y="376.77" width="9.00" height="22.20" fill="#FFC000"/>
<rect x="376.49" y="370.80" width="9.00" height="5.97" fill="#FF66CC"/>
<rect x="399.22" y="474.93" width="9.00" height="8.57" fill="#000000"/>
<rect x="399.22" y="433.57" width="9.00" height="41.36" fill="#FF0000"/>
<rect x="399.22" y="432.22" width="9.00" height="1.35" fill="#FFFF00"/>
<rect x="399.22" y="401.79" width="9.00" height="30.43" fill="#00B050"/>
<rect x="399.22" y="373.39" width="9.00" height="28.40" fill="#FFC000"/>
<rect x="399.22" y="370.80" width="9.00" height="2.59" fill="#FF66CC"/>
<rect x="421.96" y="475.27" width="9.00" height="8.23" fill="#000000"/>
<rect x="421.96" y="432.45" width="9.00" height="42.83" fill="#FF0000"/>
<rect x="421.96" y="431.55" width="9.00" height="0.90" fill="#FFFF00"/>
<rect x="421.96" y="400.10" width="9.00" height="31.44" fill="#00B050"/>
<rect x="421.96" y="373.39" width="9.00" height="26.71" fill="#FFC000"/>
<rect x="421.96" y="370.80" width="9.00" height="2.59" fill="#FF66CC"/>
<rect x="444.69" y="474.93" width="9.00" height="8.57" fill="#000000"/>
<rect x="444.69" y="432.67" width="9.00" height="42.26" fill="#FF0000"/>
<rect x="444.69" y="431.55" width="9.00" height="1.13" fill="#FFFF00"/>
<rect x="444.69" y="400.10" width="9.00" height="31.44" fill="#00B050"/>
<rect x="444.69" y="373.39" width="9.00" height="26.71" fill="#FFC000"/>
<rect x="444.69" y="370.80" width="9.00" height="2.59" fill="#FF66CC"/>
<rect x="467.43" y="475.16" width="9.00" height="8.34" fill="#000000"/>
<rect x="467.43" y="434.14" width="9.00" height="41.02" fill="#FF0000"/>
<rect x="467.43" y="433.01" width="9.00" height="1.13" fill="#FFFF00"/>
<rect x="467.43" y="401.57" width="9.00" height="31.44" fill="#00B050"/>
<rect x="467.43" y="373.39" width="9.00" height="28.17" fill="#FFC000"/>
<rect x="467.43" y="370.80" width="9.00" height="2.59" fill="#FF66CC"/>
<rect x="490.16" y="458.26" width="9.00" height="25.24" fill="#000000"/>
<rect x="490.16" y="422.75" width="9.00" height="35.50" fill="#FF0000"/>
<rect x="490.16" y="420.28" width="9.00" height="2.48" fill="#FFFF00"/>
<rect x="490.16" y="395.14" width="9.00" height="25.13" fill="#00B050"/>
<rect x="490.16" y="375.65" width="9.00" height="19.50" fill="#FFC000"/>
<rect x="490.16" y="370.80" width="9.00" height="4.85" fill="#FF66CC"/>
<rect x="512.89" y="458.03" width="9.00" height="25.47" fill="#000000"/>
<rect x="512.89" y="421.06" width="9.00" height="36.97" fill="#FF0000"/>
<rect x="512.89" y="418.81" width="9.00" height="2.25" fill="#FFFF00"/>
<rect x="512.89" y="394.58" width="9.00" height="24.23" fill="#00B050"/>
<rect x="512.89" y="375.31" width="9.00" height="19.27" fill="#FFC000"/>
<rect x="512.89" y="370.80" width="9.00" height="4.51" fill="#FF66CC"/>
<rect x="535.63" y="451.94" width="9.00" height="31.56" fill="#000000"/>
<rect x="535.63" y="419.60" width="9.00" height="32.34" fill="#FF0000"/>
<rect x="535.63" y="417.57" width="9.00" height="2.03" fill="#FFFF00"/>
<rect x="535.63" y="394.02" width="9.00" height="23.55" fill="#00B050"/>
<rect x="535.63" y="375.08" width="9.00" height="18.93" fill="#FFC000"/>
<rect x="535.63" y="370.80" width="9.00" height="4.28" fill="#FF66CC"/>
<rect x="558.36" y="475.27" width="9.00" height="8.23" fill="#000000"/>
<rect x="558.36" y="427.83" width="9.00" height="47.45" fill="#FF0000"/>
<rect x="558.36" y="421.29" width="9.00" height="6.54" fill="#FFFF00"/>
<rect x="558.36" y="393.34" width="9.00" height="27.95" fill="#00B050"/>
<rect x="558.36" y="375.08" width="9.00" height="18.26" fill="#FFC000"/>
<rect x="558.36" y="370.80" width="9.00" height="4.28" fill="#FF66CC"/>
<rect x="581.10" y="475.27" width="9.00" height="8.23" fill="#000000"/>
<rect x="581.10" y="426.92" width="9.00" height="48.35" fill="#FF0000"/>
<rect x="581.10" y="420.16" width="9.00" height="6.76" fill="#FFFF00"/>
<rect x="581.10" y="393.11" width="9.00" height="27.05" fill="#00B050"/>
<rect x="581.10" y="374.97" width="9.00" height="18.14" fill="#FFC000"/>
<rect x="581.10" y="370.80" width="9.00" height="4.17" fill="#FF66CC"/>
<rect x="603.83" y="476.06" width="9.00" height="7.44" fill="#000000"/>
<rect x="603.83" y="427.83" width="9.00" height="48.24" fill="#FF0000"/>
<rect x="603.83" y="421.63" width="9.00" height="6.20" fill="#FFFF00"/>
<rect x="603.83" y="393.34" width="9.00" height="28.29" fill="#00B050"/>
<rect x="603.83" y="375.08" width="9.00" height="18.26" fill="#FFC000"/>
<rect x="603.83" y="370.80" width="9.00" height="4.28" fill="#FF66CC"/>
<line x1="28.60" y1="483.50" x2="28.60" y2="531.00" stroke="#E6E6E6" stroke-width="0.8"/>
<line x1="51.33" y1="483.50" x2="51.33" y2="531.00" stroke="#E6E6E6" stroke-width="0.8"/>
<line x1="619.70" y1="483.50" x2="619.70" y2="531.00" stroke="#E6E6E6" stroke-width="0.8"/>
<text x="39.97" y="497.00" text-anchor="middle" class="ax">*</text>
<text x="39.97" y="529.35" text-anchor="middle" class="ax">Diet B</text>
<text x="62.70" y="497.60" text-anchor="middle" class="ax">1</text>
<text x="85.44" y="497.60" text-anchor="middle" class="ax">2</text>
<text x="108.17" y="497.60" text-anchor="middle" class="ax">3</text>
<text x="85.44" y="513.60" text-anchor="middle" class="ax">Nurse bees D84</text>
<line x1="119.54" y1="483.50" x2="119.54" y2="515.50" stroke="#E6E6E6" stroke-width="0.8"/>
<text x="130.91" y="497.60" text-anchor="middle" class="ax">1</text>
<text x="153.64" y="497.60" text-anchor="middle" class="ax">2</text>
<text x="176.38" y="497.60" text-anchor="middle" class="ax">3</text>
<text x="153.64" y="513.60" text-anchor="middle" class="ax">Pupae D134</text>
<text x="119.54" y="529.35" text-anchor="middle" class="ax">12</text>
<line x1="187.74" y1="483.50" x2="187.74" y2="531.00" stroke="#E6E6E6" stroke-width="0.8"/>
<text x="199.11" y="497.60" text-anchor="middle" class="ax">1</text>
<text x="221.84" y="497.60" text-anchor="middle" class="ax">2</text>
<text x="244.58" y="497.60" text-anchor="middle" class="ax">3</text>
<text x="221.84" y="513.60" text-anchor="middle" class="ax">Nurse bees D84</text>
<text x="221.84" y="529.35" text-anchor="middle" class="ax">15</text>
<line x1="255.95" y1="483.50" x2="255.95" y2="531.00" stroke="#E6E6E6" stroke-width="0.8"/>
<text x="267.31" y="497.60" text-anchor="middle" class="ax">1</text>
<text x="290.05" y="497.60" text-anchor="middle" class="ax">2</text>
<text x="312.78" y="497.60" text-anchor="middle" class="ax">3</text>
<text x="290.05" y="513.60" text-anchor="middle" class="ax">Nurse bees D84</text>
<line x1="324.15" y1="483.50" x2="324.15" y2="515.50" stroke="#E6E6E6" stroke-width="0.8"/>
<text x="335.52" y="497.60" text-anchor="middle" class="ax">1</text>
<text x="358.25" y="497.60" text-anchor="middle" class="ax">2</text>
<text x="380.99" y="497.60" text-anchor="middle" class="ax">3</text>
<text x="358.25" y="513.60" text-anchor="middle" class="ax">Nurse bees D134</text>
<line x1="392.35" y1="483.50" x2="392.35" y2="515.50" stroke="#E6E6E6" stroke-width="0.8"/>
<text x="403.72" y="497.60" text-anchor="middle" class="ax">1</text>
<text x="426.46" y="497.60" text-anchor="middle" class="ax">2</text>
<text x="415.09" y="513.60" text-anchor="middle" class="ax">NEB D134</text>
<line x1="437.82" y1="483.50" x2="437.82" y2="515.50" stroke="#E6E6E6" stroke-width="0.8"/>
<text x="449.19" y="497.60" text-anchor="middle" class="ax">1</text>
<text x="471.93" y="497.60" text-anchor="middle" class="ax">2</text>
<text x="460.56" y="513.60" text-anchor="middle" class="ax">Pupae D134</text>
<text x="369.62" y="529.35" text-anchor="middle" class="ax">26</text>
<line x1="483.29" y1="483.50" x2="483.29" y2="531.00" stroke="#E6E6E6" stroke-width="0.8"/>
<text x="494.66" y="497.60" text-anchor="middle" class="ax">1</text>
<text x="517.39" y="497.60" text-anchor="middle" class="ax">2</text>
<text x="540.13" y="497.60" text-anchor="middle" class="ax">3</text>
<text x="517.39" y="513.60" text-anchor="middle" class="ax">Nurse bees D84</text>
<text x="517.39" y="529.35" text-anchor="middle" class="ax">28</text>
<line x1="551.50" y1="483.50" x2="551.50" y2="531.00" stroke="#E6E6E6" stroke-width="0.8"/>
<text x="562.86" y="497.60" text-anchor="middle" class="ax">1</text>
<text x="585.60" y="497.60" text-anchor="middle" class="ax">2</text>
<text x="608.33" y="497.60" text-anchor="middle" class="ax">3</text>
<text x="585.60" y="513.60" text-anchor="middle" class="ax">Nurse bees D84</text>
<text x="585.60" y="529.35" text-anchor="middle" class="ax">50</text>
<line x1="28.60" y1="719.10" x2="619.70" y2="719.10" stroke="#E6E6E6" stroke-width="0.8"/>
<text x="20.8" y="721.40" text-anchor="end" class="ax" style="font-size:7.05px">0%</text>
<line x1="28.60" y1="696.60" x2="619.70" y2="696.60" stroke="#E6E6E6" stroke-width="0.8"/>
<text x="20.8" y="698.90" text-anchor="end" class="ax" style="font-size:7.05px">20%</text>
<line x1="28.60" y1="674.10" x2="619.70" y2="674.10" stroke="#E6E6E6" stroke-width="0.8"/>
<text x="20.8" y="676.40" text-anchor="end" class="ax" style="font-size:7.05px">40%</text>
<line x1="28.60" y1="651.60" x2="619.70" y2="651.60" stroke="#E6E6E6" stroke-width="0.8"/>
<text x="20.8" y="653.90" text-anchor="end" class="ax" style="font-size:7.05px">60%</text>
<line x1="28.60" y1="629.10" x2="619.70" y2="629.10" stroke="#E6E6E6" stroke-width="0.8"/>
<text x="20.8" y="631.40" text-anchor="end" class="ax" style="font-size:7.05px">80%</text>
<line x1="28.60" y1="606.60" x2="619.70" y2="606.60" stroke="#E6E6E6" stroke-width="0.8"/>
<text x="20.8" y="608.90" text-anchor="end" class="ax" style="font-size:7.05px">100%</text>
<rect x="36.73" y="690.41" width="10.60" height="28.69" fill="#000000"/>
<rect x="36.73" y="664.20" width="10.60" height="26.21" fill="#FFFF00"/>
<rect x="36.73" y="632.36" width="10.60" height="31.84" fill="#00B050"/>
<rect x="36.73" y="615.15" width="10.60" height="17.21" fill="#FFC000"/>
<rect x="36.73" y="606.60" width="10.60" height="8.55" fill="#FF66CC"/>
<rect x="63.60" y="704.14" width="10.60" height="14.96" fill="#000000"/>
<rect x="63.60" y="701.21" width="10.60" height="2.93" fill="#FF0000"/>
<rect x="63.60" y="684.00" width="10.60" height="17.21" fill="#FFFF00"/>
<rect x="63.60" y="642.04" width="10.60" height="41.96" fill="#00B050"/>
<rect x="63.60" y="614.93" width="10.60" height="27.11" fill="#FFC000"/>
<rect x="63.60" y="606.60" width="10.60" height="8.33" fill="#FF66CC"/>
<rect x="90.47" y="703.80" width="10.60" height="15.30" fill="#000000"/>
<rect x="90.47" y="686.59" width="10.60" height="17.21" fill="#FFFF00"/>
<rect x="90.47" y="643.95" width="10.60" height="42.64" fill="#00B050"/>
<rect x="90.47" y="614.93" width="10.60" height="29.02" fill="#FFC000"/>
<rect x="90.47" y="606.60" width="10.60" height="8.33" fill="#FF66CC"/>
<rect x="117.34" y="704.81" width="10.60" height="14.29" fill="#000000"/>
<rect x="117.34" y="699.98" width="10.60" height="4.84" fill="#FF0000"/>
<rect x="117.34" y="682.54" width="10.60" height="17.44" fill="#FFFF00"/>
<rect x="117.34" y="640.80" width="10.60" height="41.74" fill="#00B050"/>
<rect x="117.34" y="614.93" width="10.60" height="25.88" fill="#FFC000"/>
<rect x="117.34" y="606.60" width="10.60" height="8.33" fill="#FF66CC"/>
<rect x="144.21" y="704.81" width="10.60" height="14.29" fill="#000000"/>
<rect x="144.21" y="687.26" width="10.60" height="17.55" fill="#FFFF00"/>
<rect x="144.21" y="641.36" width="10.60" height="45.90" fill="#00B050"/>
<rect x="144.21" y="613.91" width="10.60" height="27.45" fill="#FFC000"/>
<rect x="144.21" y="606.60" width="10.60" height="7.31" fill="#FF66CC"/>
<rect x="171.07" y="701.33" width="10.60" height="17.77" fill="#000000"/>
<rect x="171.07" y="687.26" width="10.60" height="14.06" fill="#FFFF00"/>
<rect x="171.07" y="645.19" width="10.60" height="42.08" fill="#00B050"/>
<rect x="171.07" y="613.91" width="10.60" height="31.27" fill="#FFC000"/>
<rect x="171.07" y="606.60" width="10.60" height="7.31" fill="#FF66CC"/>
<rect x="197.94" y="706.05" width="10.60" height="13.05" fill="#000000"/>
<rect x="197.94" y="687.94" width="10.60" height="18.11" fill="#FFFF00"/>
<rect x="197.94" y="640.80" width="10.60" height="47.14" fill="#00B050"/>
<rect x="197.94" y="614.02" width="10.60" height="26.78" fill="#FFC000"/>
<rect x="197.94" y="606.60" width="10.60" height="7.42" fill="#FF66CC"/>
<rect x="224.81" y="701.89" width="10.60" height="17.21" fill="#000000"/>
<rect x="224.81" y="693.00" width="10.60" height="8.89" fill="#FFFF00"/>
<rect x="224.81" y="656.89" width="10.60" height="36.11" fill="#00B050"/>
<rect x="224.81" y="609.75" width="10.60" height="47.14" fill="#FFC000"/>
<rect x="224.81" y="606.60" width="10.60" height="3.15" fill="#FF66CC"/>
<rect x="251.68" y="701.33" width="10.60" height="17.77" fill="#000000"/>
<rect x="251.68" y="693.68" width="10.60" height="7.65" fill="#FFFF00"/>
<rect x="251.68" y="657.56" width="10.60" height="36.11" fill="#00B050"/>
<rect x="251.68" y="608.85" width="10.60" height="48.71" fill="#FFC000"/>
<rect x="251.68" y="606.60" width="10.60" height="2.25" fill="#FF66CC"/>
<rect x="278.55" y="700.54" width="10.60" height="18.56" fill="#000000"/>
<rect x="278.55" y="692.89" width="10.60" height="7.65" fill="#FFFF00"/>
<rect x="278.55" y="657.56" width="10.60" height="35.33" fill="#00B050"/>
<rect x="278.55" y="609.19" width="10.60" height="48.38" fill="#FFC000"/>
<rect x="278.55" y="606.60" width="10.60" height="2.59" fill="#FF66CC"/>
<rect x="305.42" y="702.56" width="10.60" height="16.54" fill="#000000"/>
<rect x="305.42" y="692.89" width="10.60" height="9.67" fill="#FFFF00"/>
<rect x="305.42" y="656.33" width="10.60" height="36.56" fill="#00B050"/>
<rect x="305.42" y="609.52" width="10.60" height="46.80" fill="#FFC000"/>
<rect x="305.42" y="606.60" width="10.60" height="2.92" fill="#FF66CC"/>
<rect x="332.28" y="701.89" width="10.60" height="17.21" fill="#000000"/>
<rect x="332.28" y="692.66" width="10.60" height="9.23" fill="#FFFF00"/>
<rect x="332.28" y="656.10" width="10.60" height="36.56" fill="#00B050"/>
<rect x="332.28" y="609.19" width="10.60" height="46.91" fill="#FFC000"/>
<rect x="332.28" y="606.60" width="10.60" height="2.59" fill="#FF66CC"/>
<rect x="359.15" y="701.89" width="10.60" height="17.21" fill="#000000"/>
<rect x="359.15" y="693.00" width="10.60" height="8.89" fill="#FFFF00"/>
<rect x="359.15" y="659.81" width="10.60" height="33.19" fill="#00B050"/>
<rect x="359.15" y="609.08" width="10.60" height="50.74" fill="#FFC000"/>
<rect x="359.15" y="606.60" width="10.60" height="2.48" fill="#FF66CC"/>
<rect x="386.02" y="704.48" width="10.60" height="14.62" fill="#000000"/>
<rect x="386.02" y="701.66" width="10.60" height="2.81" fill="#FF0000"/>
<rect x="386.02" y="685.24" width="10.60" height="16.42" fill="#FFFF00"/>
<rect x="386.02" y="643.95" width="10.60" height="41.29" fill="#00B050"/>
<rect x="386.02" y="614.25" width="10.60" height="29.70" fill="#FFC000"/>
<rect x="386.02" y="606.60" width="10.60" height="7.65" fill="#FF66CC"/>
<rect x="412.89" y="704.81" width="10.60" height="14.29" fill="#000000"/>
<rect x="412.89" y="687.60" width="10.60" height="17.21" fill="#FFFF00"/>
<rect x="412.89" y="644.51" width="10.60" height="43.09" fill="#00B050"/>
<rect x="412.89" y="614.25" width="10.60" height="30.26" fill="#FFC000"/>
<rect x="412.89" y="606.60" width="10.60" height="7.65" fill="#FF66CC"/>
<rect x="439.76" y="704.81" width="10.60" height="14.29" fill="#000000"/>
<rect x="439.76" y="684.68" width="10.60" height="20.14" fill="#FFFF00"/>
<rect x="439.76" y="641.25" width="10.60" height="43.43" fill="#00B050"/>
<rect x="439.76" y="615.15" width="10.60" height="26.10" fill="#FFC000"/>
<rect x="439.76" y="606.60" width="10.60" height="8.55" fill="#FF66CC"/>
<rect x="466.63" y="702.56" width="10.60" height="16.54" fill="#000000"/>
<rect x="466.63" y="699.08" width="10.60" height="3.49" fill="#FF0000"/>
<rect x="466.63" y="684.68" width="10.60" height="14.40" fill="#FFFF00"/>
<rect x="466.63" y="646.43" width="10.60" height="38.25" fill="#00B050"/>
<rect x="466.63" y="613.24" width="10.60" height="33.19" fill="#FFC000"/>
<rect x="466.63" y="606.60" width="10.60" height="6.64" fill="#FF66CC"/>
<rect x="493.49" y="704.14" width="10.60" height="14.96" fill="#000000"/>
<rect x="493.49" y="701.66" width="10.60" height="2.48" fill="#FF0000"/>
<rect x="493.49" y="684.34" width="10.60" height="17.33" fill="#FFFF00"/>
<rect x="493.49" y="642.71" width="10.60" height="41.62" fill="#00B050"/>
<rect x="493.49" y="614.48" width="10.60" height="28.24" fill="#FFC000"/>
<rect x="493.49" y="606.60" width="10.60" height="7.88" fill="#FF66CC"/>
<rect x="520.36" y="703.12" width="10.60" height="15.98" fill="#000000"/>
<rect x="520.36" y="699.75" width="10.60" height="3.38" fill="#FF0000"/>
<rect x="520.36" y="683.77" width="10.60" height="15.98" fill="#FFFF00"/>
<rect x="520.36" y="644.51" width="10.60" height="39.26" fill="#00B050"/>
<rect x="520.36" y="613.91" width="10.60" height="30.60" fill="#FFC000"/>
<rect x="520.36" y="606.60" width="10.60" height="7.31" fill="#FF66CC"/>
<rect x="547.23" y="702.56" width="10.60" height="16.54" fill="#000000"/>
<rect x="547.23" y="701.66" width="10.60" height="0.90" fill="#FF0000"/>
<rect x="547.23" y="685.69" width="10.60" height="15.98" fill="#FFFF00"/>
<rect x="547.23" y="645.08" width="10.60" height="40.61" fill="#00B050"/>
<rect x="547.23" y="614.48" width="10.60" height="30.60" fill="#FFC000"/>
<rect x="547.23" y="606.60" width="10.60" height="7.88" fill="#FF66CC"/>
<rect x="574.10" y="701.89" width="10.60" height="17.21" fill="#000000"/>
<rect x="574.10" y="687.60" width="10.60" height="14.29" fill="#FFFF00"/>
<rect x="574.10" y="644.29" width="10.60" height="43.31" fill="#00B050"/>
<rect x="574.10" y="615.26" width="10.60" height="29.02" fill="#FFC000"/>
<rect x="574.10" y="606.60" width="10.60" height="8.66" fill="#FF66CC"/>
<rect x="600.97" y="690.64" width="10.60" height="28.46" fill="#000000"/>
<rect x="600.97" y="674.89" width="10.60" height="15.75" fill="#FFFF00"/>
<rect x="600.97" y="637.20" width="10.60" height="37.69" fill="#00B050"/>
<rect x="600.97" y="613.58" width="10.60" height="23.62" fill="#FFC000"/>
<rect x="600.97" y="606.60" width="10.60" height="6.98" fill="#FF66CC"/>
<line x1="28.60" y1="719.10" x2="28.60" y2="767.00" stroke="#E6E6E6" stroke-width="0.8"/>
<line x1="55.47" y1="719.10" x2="55.47" y2="767.00" stroke="#E6E6E6" stroke-width="0.8"/>
<line x1="619.70" y1="719.10" x2="619.70" y2="767.00" stroke="#E6E6E6" stroke-width="0.8"/>
<text x="42.03" y="732.75" text-anchor="middle" class="ax">*</text>
<text x="42.03" y="765.10" text-anchor="middle" class="ax">Diet C</text>
<text x="68.90" y="733.35" text-anchor="middle" class="ax">1</text>
<text x="95.77" y="733.35" text-anchor="middle" class="ax">2</text>
<text x="122.64" y="733.35" text-anchor="middle" class="ax">3</text>
<text x="95.77" y="749.10" text-anchor="middle" class="ax">Nurse bees D84</text>
<line x1="136.07" y1="719.10" x2="136.07" y2="751.50" stroke="#E6E6E6" stroke-width="0.8"/>
<text x="149.51" y="733.35" text-anchor="middle" class="ax">1</text>
<text x="176.38" y="733.35" text-anchor="middle" class="ax">2</text>
<text x="203.24" y="733.35" text-anchor="middle" class="ax">3</text>
<text x="176.38" y="749.10" text-anchor="middle" class="ax">Nurse bees D134</text>
<line x1="216.68" y1="719.10" x2="216.68" y2="751.50" stroke="#E6E6E6" stroke-width="0.8"/>
<text x="230.11" y="733.35" text-anchor="middle" class="ax">1</text>
<text x="256.98" y="733.35" text-anchor="middle" class="ax">2</text>
<text x="283.85" y="733.35" text-anchor="middle" class="ax">3</text>
<text x="256.98" y="749.10" text-anchor="middle" class="ax">NEB D134</text>
<line x1="297.28" y1="719.10" x2="297.28" y2="751.50" stroke="#E6E6E6" stroke-width="0.8"/>
<text x="310.72" y="733.35" text-anchor="middle" class="ax">1</text>
<text x="337.58" y="733.35" text-anchor="middle" class="ax">2</text>
<text x="364.45" y="733.35" text-anchor="middle" class="ax">3</text>
<text x="337.58" y="749.10" text-anchor="middle" class="ax">Pupae D134</text>
<text x="216.68" y="765.10" text-anchor="middle" class="ax">14</text>
<line x1="377.89" y1="719.10" x2="377.89" y2="767.00" stroke="#E6E6E6" stroke-width="0.8"/>
<text x="391.32" y="733.35" text-anchor="middle" class="ax">1</text>
<text x="418.19" y="733.35" text-anchor="middle" class="ax">2</text>
<text x="445.06" y="733.35" text-anchor="middle" class="ax">3</text>
<text x="418.19" y="749.10" text-anchor="middle" class="ax">Nurse bees D84</text>
<text x="418.19" y="765.10" text-anchor="middle" class="ax">30</text>
<line x1="458.49" y1="719.10" x2="458.49" y2="767.00" stroke="#E6E6E6" stroke-width="0.8"/>
<text x="471.93" y="733.35" text-anchor="middle" class="ax">1</text>
<text x="498.79" y="733.35" text-anchor="middle" class="ax">2</text>
<text x="525.66" y="733.35" text-anchor="middle" class="ax">3</text>
<text x="498.79" y="749.10" text-anchor="middle" class="ax">Nurse bees D84</text>
<text x="498.79" y="765.10" text-anchor="middle" class="ax">34</text>
<line x1="539.10" y1="719.10" x2="539.10" y2="767.00" stroke="#E6E6E6" stroke-width="0.8"/>
<text x="552.53" y="733.35" text-anchor="middle" class="ax">1</text>
<text x="579.40" y="733.35" text-anchor="middle" class="ax">2</text>
<text x="606.27" y="733.35" text-anchor="middle" class="ax">3</text>
<text x="579.40" y="749.10" text-anchor="middle" class="ax">Nurse bees D84</text>
<text x="579.40" y="765.10" text-anchor="middle" class="ax">41</text>
</svg></body></html>
